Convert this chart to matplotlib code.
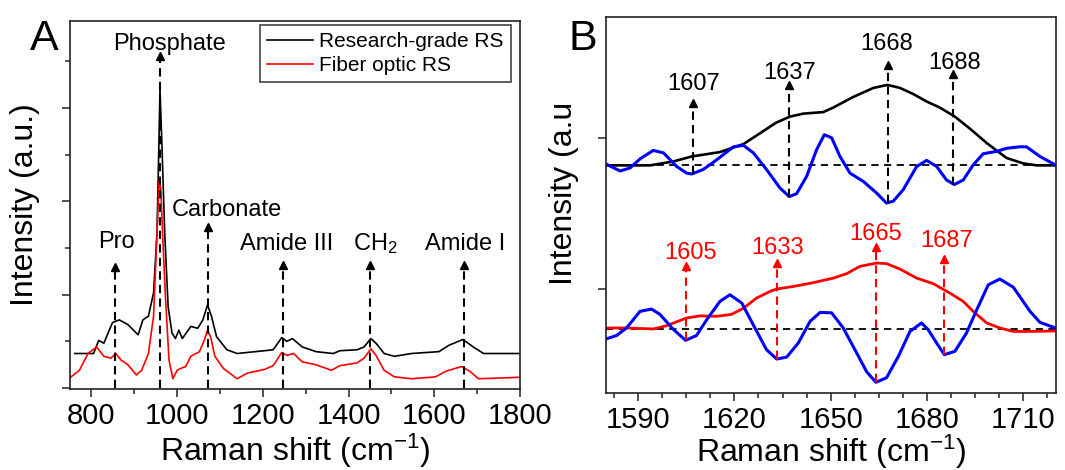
import matplotlib.pyplot as plt
from matplotlib.ticker import MultipleLocator, NullLocator
import numpy as np

plt.rcParams['font.family'] = ['Liberation Sans', 'DejaVu Sans']
plt.rcParams['mathtext.fontset'] = 'custom'
plt.rcParams['mathtext.rm'] = 'Liberation Sans'
plt.rcParams['mathtext.it'] = 'Liberation Sans:italic'

# ---- panel A: full spectra ----
rs_x = [761, 805, 817, 829, 849, 865, 885, 909, 920, 933, 945, 953, 958, 960, 964, 971,
        979, 988, 996, 1004, 1012, 1032, 1048, 1060, 1071, 1080, 1092, 1116, 1140, 1204,
        1224, 1244, 1256, 1269, 1292, 1324, 1364, 1380, 1420, 1436, 1452, 1464, 1483,
        1507, 1547, 1611, 1635, 1667, 1691, 1715, 1799]
rs_y = [0.37, 0.37, 0.51, 0.48, 0.70, 0.73, 0.68, 0.57, 0.73, 0.77, 1.02, 1.66, 2.74, 3.19,
        2.67, 1.66, 0.87, 0.59, 0.53, 0.62, 0.53, 0.66, 0.64, 0.73, 0.89, 0.77, 0.55, 0.41,
        0.37, 0.40, 0.41, 0.54, 0.50, 0.53, 0.44, 0.39, 0.37, 0.40, 0.41, 0.44, 0.53, 0.48,
        0.37, 0.34, 0.37, 0.39, 0.46, 0.52, 0.44, 0.37, 0.37]

fo_x = [751, 772, 792, 812, 829, 845, 857, 869, 885, 905, 917, 933, 945, 953, 958, 962,
        966, 973, 981, 990, 1000, 1008, 1020, 1032, 1052, 1064, 1071, 1078, 1088, 1108,
        1140, 1164, 1204, 1224, 1244, 1256, 1272, 1292, 1324, 1360, 1380, 1420, 1436,
        1452, 1464, 1483, 1507, 1547, 1603, 1627, 1663, 1683, 1703, 1799]
fo_y = [0.115, 0.19, 0.37, 0.44, 0.34, 0.32, 0.37, 0.30, 0.25, 0.14, 0.19, 0.37, 0.77,
        1.66, 2.22, 2.13, 1.66, 0.95, 0.30, 0.10, 0.19, 0.21, 0.23, 0.34, 0.39, 0.52, 0.62,
        0.55, 0.34, 0.21, 0.10, 0.16, 0.20, 0.24, 0.38, 0.35, 0.37, 0.28, 0.25, 0.19, 0.24,
        0.27, 0.32, 0.42, 0.35, 0.19, 0.12, 0.10, 0.12, 0.18, 0.23, 0.18, 0.10, 0.115]

band_names = ['Pro', 'Phosphate', 'Carbonate', 'Amide III', 'CH$_2$', 'Amide I']
band_x = [855, 960, 1071, 1247, 1451, 1669]
band_top = [1.30, 3.56, 1.72, 1.32, 1.32, 1.32]
band_label_x = [859, 982, 1116, 1256, 1463, 1671]
band_label_y = [1.50, 3.62, 1.84, 1.477, 1.477, 1.477]

# ---- panel B: amide I region with 2nd derivative ----
b_rs_x = [1580, 1593.7, 1601, 1606.7, 1615.5, 1622.8, 1628, 1633, 1637.3, 1641.5, 1647.7,
          1650.8, 1657, 1663.3, 1667.7, 1671.6, 1675.7, 1679.9, 1684, 1688.7, 1693.4,
          1698.6, 1704.8, 1710, 1714.2, 1720]
b_rs_y = [1.817, 1.817, 1.843, 1.876, 1.905, 1.958, 2.03, 2.10, 2.14, 2.16, 2.17, 2.20,
          2.27, 2.33, 2.35, 2.33, 2.29, 2.24, 2.20, 2.14, 2.06, 1.965, 1.866, 1.83, 1.817,
          1.817]
b_rs_d2_x = [1580, 1584.4, 1587.5, 1590.6, 1594.7, 1597.9, 1602, 1605.1, 1606.7, 1610.3,
             1614.5, 1619.7, 1622.8, 1625.9, 1630, 1634.2, 1637.1, 1639.4, 1642.5, 1645.6,
             1648, 1650.3, 1652.9, 1656, 1660.2, 1664.3, 1667.4, 1669.5, 1672.6, 1676.8,
             1679.9, 1683, 1686.1, 1688.5, 1691.3, 1694.4, 1697.5, 1701.7, 1704.8, 1708.9,
             1711, 1715.2, 1720]
b_rs_d2_y = [1.826, 1.78, 1.80, 1.86, 1.916, 1.90, 1.81, 1.766, 1.76, 1.79, 1.854, 1.94,
             1.95, 1.90, 1.79, 1.667, 1.61, 1.63, 1.744, 1.92, 2.02, 2.00, 1.876, 1.766,
             1.71, 1.634, 1.567, 1.58, 1.656, 1.81, 1.85, 1.81, 1.72, 1.69, 1.72, 1.82,
             1.894, 1.91, 1.93, 1.94, 1.94, 1.876, 1.82]

b_fo_x = [1580, 1586.4, 1594.7, 1598.9, 1605.1, 1609.3, 1614.5, 1619.1, 1622.8, 1626.9,
          1631.1, 1633.2, 1638.4, 1644.6, 1650.8, 1655, 1659.1, 1664.3, 1667.4, 1671.6,
          1676.8, 1682, 1687.2, 1691.3, 1694.4, 1698.6, 1702.7, 1706.9, 1713.1, 1720]
b_fo_y = [0.74, 0.74, 0.733, 0.755, 0.806, 0.82, 0.817, 0.83, 0.87, 0.938, 0.982, 0.998,
          1.015, 1.04, 1.07, 1.10, 1.148, 1.17, 1.166, 1.13, 1.07, 1.033, 0.97, 0.916,
          0.85, 0.773, 0.74, 0.717, 0.717, 0.72]
b_fo_d2_x = [1580, 1583.3, 1586.4, 1590.6, 1594.2, 1596.8, 1601, 1604.8, 1608.2, 1611.4,
             1615.5, 1618.6, 1622.3, 1625.9, 1630, 1633.2, 1636.3, 1639.9, 1643.6, 1646.7,
             1650.3, 1653.9, 1658.1, 1661.2, 1664.1, 1667.4, 1671.1, 1674.7, 1678.3,
             1680.4, 1683, 1685.4, 1688.7, 1692.3, 1695.5, 1699.1, 1702.7, 1706.9, 1712.1,
             1715.2, 1720]
b_fo_d2_y = [0.667, 0.69, 0.74, 0.85, 0.865, 0.83, 0.73, 0.658, 0.69, 0.795, 0.916, 0.96,
             0.905, 0.76, 0.596, 0.534, 0.547, 0.64, 0.784, 0.843, 0.84, 0.74, 0.574, 0.45,
             0.38, 0.41, 0.552, 0.717, 0.773, 0.728, 0.64, 0.563, 0.585, 0.706, 0.86,
             1.026, 1.064, 1.01, 0.85, 0.777, 0.74]

rs_base, fo_base = 1.817, 0.733
rs_peaks = [1607, 1637, 1668, 1688]
rs_peak_low = [1.76, 1.61, 1.567, 1.69]
rs_peak_top = [2.23, 2.35, 2.48, 2.42]
rs_label_x = [1607.3, 1637.3, 1667.5, 1688.7]
rs_label_y = [2.318, 2.39, 2.583, 2.457]
fo_peaks = [1605, 1633, 1665, 1687]
fo_peak_x = [1604.8, 1633.2, 1664.1, 1685.4]
fo_peak_low = [0.658, 0.534, 0.38, 0.563]
fo_peak_top = [1.148, 1.17, 1.276, 1.20]
fo_label_x = [1606.2, 1633.4, 1663.9, 1686.1]
fo_label_y = [1.196, 1.232, 1.32, 1.276]


def dashed_arrow(ax, x, y0, y1, color):
    ax.plot([x, x], [y0, y1], ls=(0, (4, 2.5)), color=color, lw=1.5)
    ax.plot(x, y1, marker='^', ms=6, color=color, mec=color, lw=0)


fig = plt.figure(figsize=(10.65, 4.7), dpi=100)
axA = fig.add_axes([70 / 1065, 1 - 389 / 470, 450 / 1065, 368 / 470])
axB = fig.add_axes([606 / 1065, 1 - 393 / 470, 450 / 1065, 376 / 470])

for ax in (axA, axB):
    for s in ax.spines.values():
        s.set_linewidth(1.2)
        s.set_color('#222222')
    ax.tick_params(which='major', direction='out', length=6, width=1.1, labelsize=21,
                   pad=3, color='#222222')
    ax.tick_params(which='minor', direction='out', length=3.5, width=1.1, color='#222222')
    ax.tick_params(axis='y', labelleft=False)

# panel A
axA.plot(rs_x, rs_y, color='black', lw=1.2, label='Research-grade RS')
axA.plot(fo_x, fo_y, color='red', lw=1.2, label='Fiber optic RS')
for name, x, top, lx, ly in zip(band_names, band_x, band_top, band_label_x, band_label_y):
    dashed_arrow(axA, x, 0, top, 'black')
    axA.text(lx, ly, name, fontsize=17, ha='center', va='baseline')
axA.set_xlim(750, 1800)
axA.set_ylim(-0.01, 3.93)
axA.xaxis.set_major_locator(MultipleLocator(200))
axA.xaxis.set_minor_locator(MultipleLocator(100))
axA.yaxis.set_major_locator(MultipleLocator(1))
axA.yaxis.set_minor_locator(MultipleLocator(0.5))
axA.set_xlabel('Raman shift (cm$^{-1}$)', fontsize=23)
axA.xaxis.set_label_coords(0.5, -0.115)
axA.set_ylabel('Intensity (a.u.)', fontsize=23)
axA.yaxis.set_label_coords(-0.067, 0.5)
leg = axA.legend(loc='upper right', bbox_to_anchor=(0.98, 0.99), fontsize=15,
                 fancybox=False, edgecolor='#444444', framealpha=1, handlelength=2.2,
                 handletextpad=0.3, labelspacing=0.25, borderpad=0.35, borderaxespad=0)
leg.get_frame().set_linewidth(1.2)

# panel B
axB.axhline(rs_base, ls=(0, (4, 3)), color='black', lw=1.3)
axB.axhline(fo_base, ls=(0, (4, 3)), color='black', lw=1.3)
axB.plot(b_rs_x, b_rs_y, color='black', lw=1.9)
axB.plot(b_rs_d2_x, b_rs_d2_y, color='#0000ff', lw=2.2)
axB.plot(b_fo_x, b_fo_y, color='#ff0000', lw=2.0)
axB.plot(b_fo_d2_x, b_fo_d2_y, color='#0000ff', lw=2.2)
for p, lo, top, lx, ly in zip(rs_peaks, rs_peak_low, rs_peak_top, rs_label_x, rs_label_y):
    dashed_arrow(axB, p, lo, top, 'black')
    axB.text(lx, ly, str(p), fontsize=17, ha='center', va='baseline', color='black')
for p, x, lo, top, lx, ly in zip(fo_peaks, fo_peak_x, fo_peak_low, fo_peak_top,
                                  fo_label_x, fo_label_y):
    dashed_arrow(axB, x, lo, top, '#ff0000')
    axB.text(lx, ly, str(p), fontsize=17, ha='center', va='baseline', color='#ff0000')
axB.set_xlim(1580, 1720.2)
axB.set_ylim(0.309, 2.80)
axB.xaxis.set_major_locator(MultipleLocator(30))
axB.xaxis.set_minor_locator(MultipleLocator(7.5))
axB.yaxis.set_major_locator(MultipleLocator(1))
axB.yaxis.set_minor_locator(NullLocator())
axB.set_xlabel('Raman shift (cm$^{-1}$)', fontsize=23)
axB.xaxis.set_label_coords(0.5, -0.105)
axB.set_ylabel('Intensity (a.u', fontsize=23)
axB.yaxis.set_label_coords(-0.06, 0.53)

fig.text(30 / 1065, 1 - 50 / 470, 'A', fontsize=31, va='baseline', ha='left')
fig.text(568 / 1065, 1 - 50 / 470, 'B', fontsize=31, va='baseline', ha='left')

fig.savefig('out.png', dpi=100)
